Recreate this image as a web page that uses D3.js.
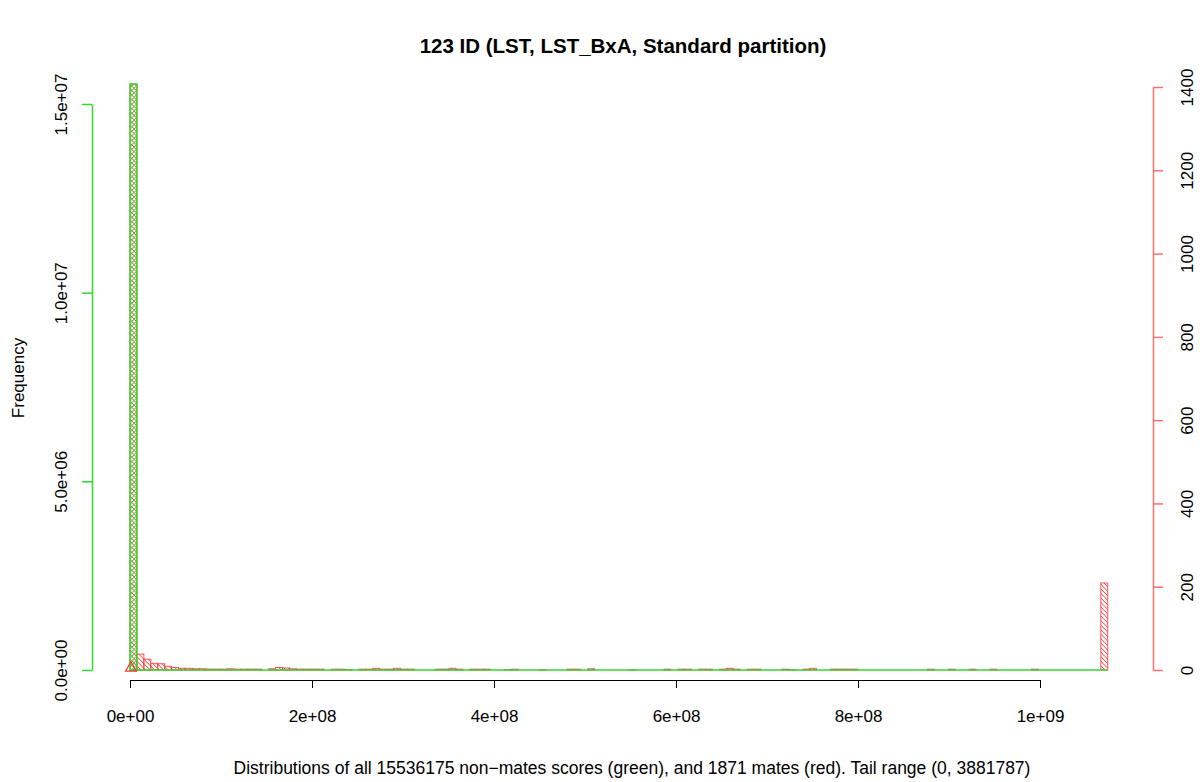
<!DOCTYPE html>
<html><head><meta charset="utf-8">
<script src="https://cdn.jsdelivr.net/npm/d3@7"></script>
<style>body{margin:0;background:#fff}svg{display:block;font-family:"Liberation Sans",Arial,sans-serif}</style>
</head><body>
<svg id="c" width="1200" height="782"></svg>
<script>
// ---- data ----
const title = "123 ID (LST, LST_BxA, Standard partition)";
const caption = "Distributions of all 15536175 non\u2212mates scores (green), and 1871 mates (red). Tail range (0, 3881787)";
const binWidth = 7.62e6;
const nBins = 141;
const xTicks = [0, 2e8, 4e8, 6e8, 8e8, 1e9];
const xTickLabels = ["0e+00", "2e+08", "4e+08", "6e+08", "8e+08", "1e+09"];
const leftTicks = [0, 5e6, 1e7, 1.5e7];
const leftTickLabels = ["0.0e+00", "5.0e+06", "1.0e+07", "1.5e+07"];
const rightTicks = [0, 200, 400, 600, 800, 1000, 1200, 1400];
// green (non-mates) histogram: bin index, count
const greenBins = [0];
const greenCounts = [15530000];
// red (mates) histogram: bin index, count
const redBins =   [0,1,2,3,4,5,6,7,8,9,10,11,12,13,14,15,16,17,18,20,21,22,23,24,25,26,27,29,30,31,33,34,35,36,37,38,39,40,44,45,46,47,49,50,51,54,55,59,63,64,66,72,77,79,80,82,83,85,86,87,89,90,94,95,97,98,101,102,103,104,115,118,121,124,130,140];
const redCounts = [1407,38,26,16,15,9,6,4,4,3,3,2,2,2,3,2,2,2,2,3,6,5,3,2,2,2,2,2,2,1,2,2,4,2,2,4,2,2,2,2,4,2,2,2,2,1,2,1,2,2,3,1,2,2,2,2,2,2,4,2,2,2,2,1,2,4,2,2,2,2,2,2,2,2,2,209];

// ---- drawing ----
const svg = d3.select("#c");
const green = "#33d633", red = "#ff3030", redAxis = "#ff7070";
const fontFam = "Liberation Sans, Arial, sans-serif";
const x = d3.scaleLinear().domain([0, 1e9]).range([130, 1040]);
const yL = d3.scaleLinear().domain([0, 1.5e7]).range([670, 104]);
const yR = d3.scaleLinear().domain([0, 1400]).range([670, 87]);

const defs = svg.append("defs");
function hatch(id, color, angle, w){
  const p = defs.append("pattern").attr("id", id).attr("patternUnits","userSpaceOnUse")
    .attr("width", 3.2).attr("height", 3.2).attr("patternTransform", `rotate(${angle})`);
  p.append("line").attr("x1",0).attr("y1",0).attr("x2",0).attr("y2",3.2)
    .attr("stroke", color).attr("stroke-width", w);
}
hatch("hr", red, -45, 1.4);
hatch("hg", green, 45, 2);

// red bars
svg.append("g").selectAll("rect").data(redBins.map((b,i)=>({b, c:redCounts[i]}))).join("rect")
  .attr("x", d => x(d.b*binWidth))
  .attr("width", d => x((d.b+1)*binWidth) - x(d.b*binWidth))
  .attr("y", d => yR(d.c))
  .attr("height", d => yR(0) - yR(d.c))
  .attr("fill", "url(#hr)").attr("stroke", red).attr("stroke-width", 1).attr("stroke-opacity", 0.8);

// green baseline (near-zero bins of the non-mates histogram)
svg.append("line").attr("x1", x(0)).attr("x2", x(nBins*binWidth))
  .attr("y1", yL(0)).attr("y2", yL(0)).attr("stroke", green).attr("stroke-width", 1.5);

// green bars
svg.append("g").selectAll("rect").data(greenBins.map((b,i)=>({b, c:greenCounts[i]}))).join("rect")
  .attr("x", d => x(d.b*binWidth))
  .attr("width", d => x((d.b+1)*binWidth) - x(d.b*binWidth))
  .attr("y", d => yL(d.c))
  .attr("height", d => yL(0) - yL(d.c))
  .attr("fill", "url(#hg)").attr("stroke", green).attr("stroke-width", 1.4);

// red triangle marker at origin
svg.append("path").attr("d", d3.symbol(d3.symbolTriangle, 50)())
  .attr("transform", `translate(${x(0)+1},${yR(0)-2})`)
  .attr("fill","none").attr("stroke", red).attr("stroke-width", 1.2);

// x axis
const xa = svg.append("g").attr("transform", "translate(0,680)")
  .call(d3.axisBottom(x).tickValues(xTicks).tickFormat((d,i)=>xTickLabels[i]).tickSize(8).tickSizeOuter(0));
xa.select(".domain").attr("stroke", "#000");
xa.selectAll("text").attr("font-size", 17).attr("fill", "#000").attr("font-family", fontFam)
  .attr("y", 36).attr("dy", "0.35em");

// left axis
const la = svg.append("g").attr("transform", "translate(92,0)")
  .call(d3.axisLeft(yL).tickValues(leftTicks).tickFormat((d,i)=>leftTickLabels[i]).tickSize(10).tickSizeOuter(0));
la.select(".domain").attr("stroke", green).attr("stroke-width", 1.5);
la.selectAll(".tick line").attr("stroke", green).attr("stroke-width", 1.5);
la.selectAll("text").attr("font-size", 17).attr("fill", "#000").attr("font-family", fontFam)
  .attr("transform", "rotate(-90)").attr("x", 0).attr("y", -31).attr("dy", "0.35em").attr("text-anchor", "middle");

// right axis
const ra = svg.append("g").attr("transform", "translate(1153,0)")
  .call(d3.axisRight(yR).tickValues(rightTicks).tickFormat(d3.format("d")).tickSize(10).tickSizeOuter(0));
ra.select(".domain").attr("stroke", redAxis).attr("stroke-width", 1.5);
ra.selectAll(".tick line").attr("stroke", redAxis).attr("stroke-width", 1.5);
ra.selectAll("text").attr("font-size", 17).attr("fill", "#000").attr("font-family", fontFam)
  .attr("transform", "rotate(-90)").attr("x", 0).attr("y", 34).attr("dy", "0.35em").attr("text-anchor", "middle");

// texts
svg.append("text").attr("x", 623).attr("y", 53).attr("text-anchor", "middle")
  .attr("font-size", 20.5).attr("font-weight", "bold").text(title);
svg.append("text").attr("x", 632).attr("y", 774).attr("text-anchor", "middle")
  .attr("font-size", 17.5).text(caption);
svg.append("text").attr("transform", "translate(18,378) rotate(-90)").attr("text-anchor", "middle")
  .attr("dy", "0.35em").attr("font-size", 17).text("Frequency");
</script>
</body></html>
